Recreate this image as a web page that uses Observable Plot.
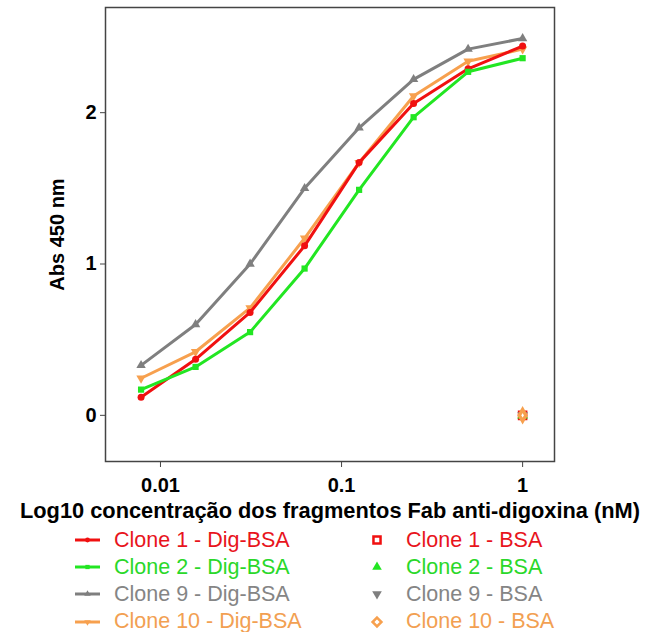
<!DOCTYPE html>
<html>
<head>
<meta charset="utf-8">
<script src="https://cdn.jsdelivr.net/npm/d3@7"></script>
<script src="https://cdn.jsdelivr.net/npm/@observablehq/plot@0.6"></script>
<style>
  html, body { margin: 0; padding: 0; background: white; }
  body { width: 646px; height: 632px; position: relative; overflow: hidden; font-family: "Liberation Sans", Arial, sans-serif; }
  #chart { position: absolute; left: 0; top: 0; }
  g[aria-label="x-axis label"], g[aria-label="x-axis label"] text { font-size: 21.8px !important; font-weight: bold; }
  g[aria-label="y-axis label"], g[aria-label="y-axis label"] text { font-size: 20px !important; font-weight: bold; }
  #legend { position: absolute; left: 0; top: 527px; width: 646px; }
  .row { position: absolute; height: 26px; display: flex; align-items: center; font-size: 21.5px; white-space: nowrap; }
  .row svg { display: block; }
</style>
</head>
<body>
<div id="chart"></div>
<div id="legend"></div>
<script>
// Concentrations (nM), two-fold dilutions
const concentrations = [0.0078125, 0.015625, 0.03125, 0.0625, 0.125, 0.25, 0.5, 1];
// Abs 450 nm on Dig-BSA
const clone1Dig = [0.12, 0.37, 0.68, 1.12, 1.67, 2.06, 2.29, 2.44];
const clone2Dig = [0.17, 0.32, 0.55, 0.97, 1.49, 1.97, 2.27, 2.36];
const clone9Dig = [0.33, 0.60, 1.00, 1.50, 1.90, 2.22, 2.42, 2.49];
const clone10Dig = [0.245, 0.42, 0.71, 1.17, 1.67, 2.11, 2.34, 2.42];
// Abs 450 nm on BSA (only at 1 nM)
const bsaConcentration = [1];
const clone1BSA = [0.0];
const clone2BSA = [0.0];
const clone9BSA = [0.0];
const clone10BSA = [0.0];
// Series names and colours
const digNames = ["Clone 1 - Dig-BSA", "Clone 2 - Dig-BSA", "Clone 9 - Dig-BSA", "Clone 10 - Dig-BSA"];
const bsaNames = ["Clone 1 - BSA", "Clone 2 - BSA", "Clone 9 - BSA", "Clone 10 - BSA"];
const colors = ["#f01010", "#22e622", "#7f7f7f", "#f7a04e"];
const textColors = ["#e8141c", "#2ad82a", "#858585", "#f2a052"];
const xTicks = [0.01, 0.1, 1];
const yTicks = [0, 1, 2];

const digSeries = [clone1Dig, clone2Dig, clone9Dig, clone10Dig];
const bsaSeries = [clone1BSA, clone2BSA, clone9BSA, clone10BSA];
const digSymbols = ["circle", "square", "triangle", "triangle"];
const digRotate = [0, 0, 0, 180];

const digData = digSeries.flatMap((vals, i) => vals.map((v, j) => ({x: concentrations[j], y: v, s: i})));
const bsaData = bsaSeries.flatMap((vals, i) => vals.map((v, j) => ({x: bsaConcentration[j], y: v, s: i})));

const drawOrder = [2, 3, 0, 1];
const marks = [
  Plot.frame({stroke: "#444", strokeWidth: 1.5}),
  Plot.axisX({ticks: xTicks, tickFormat: d => String(d), tickSize: 6, tickPadding: 10, fontSize: 20, fontWeight: "bold",
    label: "Log10 concentração dos fragmentos Fab anti-digoxina (nM)", labelAnchor: "center", labelArrow: "none", labelOffset: 56, stroke: "#444"}),
  Plot.axisY({ticks: yTicks, tickFormat: d => String(d), tickSize: 5, tickPadding: 4, fontSize: 20, fontWeight: "bold",
    label: "Abs 450 nm", labelAnchor: "center", labelArrow: "none", labelOffset: 56, stroke: "#444"})
];
for (const i of drawOrder) {
  const d = digData.filter(p => p.s === i);
  marks.push(Plot.line(d, {x: "x", y: "y", stroke: colors[i], strokeWidth: 3}));
  marks.push(Plot.dot(d, {x: "x", y: "y", fill: colors[i], symbol: digSymbols[i], rotate: digRotate[i], r: 3.5}));
}
const bsaSymbols = ["square", "triangle", "triangle", "diamond"];
const bsaRotate = [0, 0, 180, 0];
for (const i of [0, 1, 2, 3]) {
  const d = bsaData.filter(p => p.s === i);
  if (i === 0) {
    marks.push(Plot.dot(d, {x: "x", y: "y", stroke: colors[i], strokeWidth: 2.5, fill: "white", symbol: bsaSymbols[i], r: 4}));
  } else if (i === 3) {
    marks.push(Plot.dot(d, {x: "x", y: "y", stroke: colors[i], strokeWidth: 3.5, fill: "white", symbol: bsaSymbols[i], r: 3.5}));
  } else {
    marks.push(Plot.dot(d, {x: "x", y: "y", fill: colors[i], symbol: bsaSymbols[i], rotate: bsaRotate[i], r: 4}));
  }
}

const chart = Plot.plot({
  width: 646, height: 525,
  marginTop: 7, marginLeft: 105, marginRight: 92, marginBottom: 64,
  x: {type: "log", domain: [0.00497, 1.5]},
  y: {domain: [-0.305, 2.695]},
  style: {fontFamily: "'Liberation Sans', Arial, sans-serif", background: "white", color: "black"},
  marks
});
document.getElementById("chart").appendChild(chart);

// Legend
const legend = document.getElementById("legend");
function symPath(type, size) {
  return d3.symbol(type === "circle" ? d3.symbolCircle : type === "square" ? d3.symbolSquare : type === "diamond" ? d3.symbolDiamond2 : d3.symbolTriangle, size)();
}
digNames.forEach((name, i) => {
  const row = document.createElement("div");
  row.className = "row";
  row.style.left = "74px";
  row.style.top = (i * 27.2) + "px";
  row.style.color = textColors[i];
  const svg = `<svg width="40" height="26"><line x1="1" x2="26" y1="13" y2="13" stroke="${colors[i]}" stroke-width="3"/>` +
    `<path d="${symPath(digSymbols[i], 18)}" transform="translate(13.5,13) rotate(${digRotate[i]})" fill="${colors[i]}"/></svg>`;
  row.innerHTML = svg + `<span>${name}</span>`;
  legend.appendChild(row);
});
bsaNames.forEach((name, i) => {
  const row = document.createElement("div");
  row.className = "row";
  row.style.left = "368px";
  row.style.top = (i * 27.2) + "px";
  row.style.color = textColors[i];
  let sym;
  if (i === 0) sym = `<path d="${symPath("square", 50)}" transform="translate(9,13)" fill="white" stroke="${colors[i]}" stroke-width="2.5"/>`;
  else if (i === 3) sym = `<path d="${symPath("diamond", 50)}" transform="translate(9,13)" fill="white" stroke="${colors[i]}" stroke-width="2.5"/>`;
  else sym = `<path d="${symPath("triangle", 40)}" transform="translate(9,13) rotate(${bsaRotate[i]})" fill="${colors[i]}"/>`;
  row.innerHTML = `<svg width="38" height="26">${sym}</svg><span>${name}</span>`;
  legend.appendChild(row);
});
</script>
</body>
</html>
